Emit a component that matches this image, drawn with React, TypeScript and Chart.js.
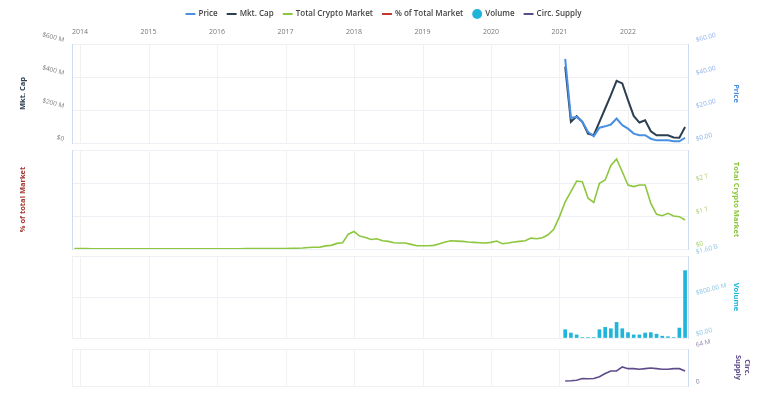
import React, { useEffect, useRef } from 'react';
import { Chart, registerables } from 'chart.js';

Chart.register(...registerables);

const FONT = "'Open Sans', 'Noto Sans', sans-serif";

// Total crypto market (billions USD), monthly
const marketMonths = [
  '2013-12',
  '2014-01', '2014-02', '2014-03', '2014-04', '2014-05', '2014-06', '2014-07', '2014-08', '2014-09', '2014-10', '2014-11', '2014-12',
  '2015-01', '2015-02', '2015-03', '2015-04', '2015-05', '2015-06', '2015-07', '2015-08', '2015-09', '2015-10', '2015-11', '2015-12',
  '2016-01', '2016-02', '2016-03', '2016-04', '2016-05', '2016-06', '2016-07', '2016-08', '2016-09', '2016-10', '2016-11', '2016-12',
  '2017-01', '2017-02', '2017-03', '2017-04', '2017-05', '2017-06', '2017-07', '2017-08', '2017-09', '2017-10', '2017-11', '2017-12',
  '2018-01', '2018-02', '2018-03', '2018-04', '2018-05', '2018-06', '2018-07', '2018-08', '2018-09', '2018-10', '2018-11', '2018-12',
  '2019-01', '2019-02', '2019-03', '2019-04', '2019-05', '2019-06', '2019-07', '2019-08', '2019-09', '2019-10', '2019-11', '2019-12',
  '2020-01', '2020-02', '2020-03', '2020-04', '2020-05', '2020-06', '2020-07', '2020-08', '2020-09', '2020-10', '2020-11', '2020-12',
  '2021-01', '2021-02', '2021-03', '2021-04', '2021-05', '2021-06', '2021-07', '2021-08', '2021-09', '2021-10', '2021-11', '2021-12',
  '2022-01', '2022-02', '2022-03', '2022-04', '2022-05', '2022-06', '2022-07', '2022-08', '2022-09', '2022-10', '2022-11',
];
const totalMarketB = [
  12,
  13, 11, 9, 7, 8, 9, 8, 7, 6, 5, 5, 4.5,
  4, 3.5, 4, 3.5, 3.5, 3.5, 4, 3.5, 3.5, 4, 5, 6,
  6.5, 7.5, 8.5, 8.5, 9, 12, 11, 10.5, 10.5, 11, 12, 14,
  17, 20, 25, 30, 45, 55, 55, 95, 110, 170, 190, 450,
  530, 390, 350, 290, 310, 250, 230, 190, 180, 180, 140, 100,
  100, 100, 110, 160, 210, 250, 240, 230, 210, 200, 190, 180,
  200, 240, 160, 180, 210, 230, 250, 330, 310, 340, 430, 600,
  980, 1430, 1740, 2060, 2040, 1540, 1410, 1990, 2090, 2530, 2730, 2340,
  1940, 1890, 1940, 1940, 1380, 1050, 1010, 1080, 1000, 980, 880,
];

// Coin series, monthly
const coinMonths = [
  '2021-02', '2021-03', '2021-04', '2021-05', '2021-06', '2021-07', '2021-08', '2021-09', '2021-10', '2021-11', '2021-12',
  '2022-01', '2022-02', '2022-03', '2022-04', '2022-05', '2022-06', '2022-07', '2022-08', '2022-09', '2022-10', '2022-11',
];
const priceUsd = [51, 15.2, 15.8, 12.8, 6.7, 4.1, 9.3, 10.1, 11.2, 14.8, 10.8, 8.7, 5.7, 4.7, 4.7, 2.6, 1.6, 1.6, 1.6, 1.0, 1.0, 3.2];
const mktCapM = [462, 128, 162, 128, 57, 47, 128, 209, 290, 377, 361, 260, 164, 124, 138, 71, 47, 47, 47, 34, 32, 97];
const volumeM = [162, 97, 60, 10, 10, 10, 162, 207, 181, 304, 181, 105, 60, 60, 97, 105, 75, 35, 25, 10, 194, 1315];
const circSupplyM = [8.6, 9, 10, 13, 12.6, 13, 16, 21.7, 26, 26, 33, 30, 30, 29, 30, 31, 30, 29, 29, 30, 30, 26];
const pctOfMarket: number[] = [];

const xMin = 2013.883;
const xMax = 2022.876;

const toX = (ym: string) => {
  const [y, m] = ym.split('-').map(Number);
  return y + (m - 1) / 12;
};

const HGRID = '#edf0f4';
const VGRID = '#f1f1f1';
const BORDER = '#cddcee';

const panelGridPlugin = {
  id: 'panelGrid',
  beforeDatasetsDraw(chart: any) {
    const { ctx, scales } = chart;
    const xs = scales.x;
    if (!xs) return;
    ctx.save();
    ctx.strokeStyle = VGRID;
    ctx.lineWidth = 1;
    ['yPrice', 'yTotal', 'yVol', 'ySupply'].forEach((id) => {
      const ys = scales[id];
      if (!ys) return;
      xs.ticks.forEach((t: any) => {
        const px = Math.round(xs.getPixelForValue(t.value)) + 0.5;
        ctx.beginPath();
        ctx.moveTo(px, ys.top);
        ctx.lineTo(px, ys.bottom);
        ctx.stroke();
      });
    });
    ctx.restore();
  },
};

const LEFT_W = 72;
const RIGHT_W = 80;
const TOP_H = 44;

function zeroPad(s: any) {
  s.paddingTop = 0;
  s.paddingBottom = 0;
  s.paddingLeft = 0;
  s.paddingRight = 0;
}

function yAxis(o: any) {
  const side = o.position;
  return {
    type: 'linear',
    position: side,
    stack: side === 'left' ? 'L' : 'R',
    stackWeight: o.stackWeight,
    weight: o.weight,
    display: o.display !== undefined ? o.display : true,
    min: o.min ?? 0,
    max: o.max ?? 1,
    afterFit: (s: any) => {
      s.width = side === 'left' ? LEFT_W : RIGHT_W;
      zeroPad(s);
    },
    grid: {
      display: !!o.grid,
      drawOnChartArea: !!o.grid,
      drawTicks: false,
      color: HGRID,
    },
    border: { display: o.border !== false, color: o.borderColor || BORDER },
    ticks: {
      display: !!o.fmt,
      autoSkip: false,
      stepSize: o.step,
      padding: 9,
      minRotation: side === 'left' ? -15 : 15,
      maxRotation: side === 'left' ? -15 : 15,
      color: o.tickColor || '#888',
      font: { size: 6.5, family: FONT },
      callback: (v: any) => (o.fmt ? [o.fmt(v), ''] : ''),
    },
    title: o.title
      ? {
          display: true,
          text: o.title,
          color: o.titleColor,
          font: { size: 7.5, weight: 'bold', family: FONT },
          padding: { top: o.titlePad ?? 18, bottom: 0 },
        }
      : { display: false },
  };
}

export default function App() {
  const ref = useRef<HTMLCanvasElement | null>(null);

  useEffect(() => {
    if (!ref.current) return;
    Chart.defaults.font.family = FONT;
    const coinXY = (arr: number[]) => coinMonths.map((m, i) => ({ x: toX(m), y: arr[i] }));

    const chart = new Chart(ref.current, {
      type: 'line',
      data: {
        datasets: [
          {
            type: 'line', label: 'Price', data: coinXY(priceUsd), xAxisID: 'x', yAxisID: 'yPrice',
            borderColor: '#4a90e2', backgroundColor: '#4a90e2', borderWidth: 2, pointRadius: 0, tension: 0,
          },
          {
            type: 'line', label: 'Mkt. Cap', data: coinXY(mktCapM), xAxisID: 'x', yAxisID: 'yMkt',
            borderColor: '#2c3e50', backgroundColor: '#2c3e50', borderWidth: 2, pointRadius: 0, tension: 0,
          },
          {
            type: 'line', label: 'Total Crypto Market',
            data: marketMonths.map((m, i) => ({ x: toX(m), y: totalMarketB[i] })),
            xAxisID: 'x', yAxisID: 'yTotal',
            borderColor: '#8dc63f', backgroundColor: '#8dc63f', borderWidth: 1.6, pointRadius: 0, tension: 0,
          },
          {
            type: 'line', label: '% of Total Market',
            data: pctOfMarket.map((v, i) => ({ x: toX(marketMonths[i]), y: v })),
            xAxisID: 'x', yAxisID: 'yPct',
            borderColor: '#c0392b', backgroundColor: '#c0392b', borderWidth: 2, pointRadius: 0,
          },
          {
            type: 'bar', label: 'Volume', data: coinXY(volumeM), xAxisID: 'x', yAxisID: 'yVol',
            backgroundColor: '#1fb5d9', borderColor: '#1fb5d9', borderWidth: 0, barThickness: 3,
          },
          {
            type: 'line', label: 'Circ. Supply', data: coinXY(circSupplyM), xAxisID: 'x', yAxisID: 'ySupply',
            borderColor: '#5e4b8b', backgroundColor: '#5e4b8b', borderWidth: 1.6, pointRadius: 0, tension: 0,
          },
        ] as any,
      },
      options: {
        animation: false,
        responsive: false,
        maintainAspectRatio: false,
        layout: { padding: { top: 0, left: 0, right: 0, bottom: 9 } },
        plugins: {
          tooltip: { enabled: false },
          legend: {
            position: 'top',
            labels: {
              usePointStyle: true,
              boxHeight: 7,
              boxWidth: 8,
              padding: 10,
              color: '#444',
              font: { size: 8, weight: '600', family: FONT },
              generateLabels: (c: any) => {
                const items = Chart.defaults.plugins.legend.labels.generateLabels(c);
                return items.map((it: any) => {
                  const isBar = it.text === 'Volume';
                  return {
                    ...it,
                    pointStyle: isBar ? 'circle' : 'line',
                    lineWidth: isBar ? 0 : 2,
                    fillStyle: it.strokeStyle || it.fillStyle,
                  };
                });
              },
            },
          },
        },
        scales: {
          x: {
            type: 'linear',
            position: 'top',
            offset: false,
            min: xMin,
            max: xMax,
            grid: { display: false, drawTicks: false, offset: false },
            border: { display: false },
            afterFit: (s: any) => {
              const lh = s.chart.legend ? s.chart.legend.height : 0;
              s.height = TOP_H - lh;
              zeroPad(s);
            },
            ticks: {
              stepSize: 1,
              includeBounds: false,
              autoSkip: false,
              maxRotation: 0,
              padding: 8,
              color: '#777',
              font: { size: 7, family: FONT },
              callback: (v: any) => String(v),
            },
          },
          // left stack (higher weight = higher placement)
          yMkt: yAxis({
            position: 'left', stackWeight: 99, weight: 7, min: 0, max: 600, step: 200,
            fmt: (v: number) => (v === 0 ? '$0' : `$${v} M`), tickColor: '#7a7a7a',
            title: 'Mkt. Cap', titleColor: '#2c3e50', titlePad: 18,
          }),
          yGapL1: yAxis({ position: 'left', stackWeight: 7, weight: 6, display: false }),
          yPct: yAxis({
            position: 'left', stackWeight: 99, weight: 5, min: 0, max: 1,
            title: '% of total Market', titleColor: '#a33a32', titlePad: 18,
          }),
          yGapL2: yAxis({ position: 'left', stackWeight: 7, weight: 4, display: false }),
          yL3: yAxis({ position: 'left', stackWeight: 82, weight: 3, borderColor: '#eef0f3' }),
          yGapL3: yAxis({ position: 'left', stackWeight: 11, weight: 2, display: false }),
          yL4: yAxis({ position: 'left', stackWeight: 37, weight: 1, borderColor: '#eef0f3' }),
          // right stack (lower weight = higher placement)
          yPrice: yAxis({
            position: 'right', stackWeight: 99, weight: 1, min: 0, max: 60, step: 20, grid: true,
            fmt: (v: number) => `$${v.toFixed(2)}`, tickColor: '#8fb3ea',
            title: 'Price', titleColor: '#4a90e2', titlePad: 27,
          }),
          yGapR1: yAxis({ position: 'right', stackWeight: 7, weight: 2, display: false }),
          yTotal: yAxis({
            position: 'right', stackWeight: 99, weight: 3, min: 0, max: 3000, step: 1000, grid: true,
            fmt: (v: number) => (v === 0 ? '$0' : v >= 3000 ? '' : `$${v / 1000} T`), tickColor: '#a9cf6e',
            title: 'Total Crypto Market', titleColor: '#8dc63f', titlePad: 27,
          }),
          yGapR2: yAxis({ position: 'right', stackWeight: 7, weight: 4, display: false }),
          yVol: yAxis({
            position: 'right', stackWeight: 82, weight: 5, min: 0, max: 1600, step: 800, grid: true,
            fmt: (v: number) => (v === 0 ? '$0.00' : v >= 1000 ? `$${(v / 1000).toFixed(2)} B` : `$${v.toFixed(2)} M`),
            tickColor: '#8cc6e2',
            title: 'Volume', titleColor: '#1fb5d9', titlePad: 27,
          }),
          yGapR3: yAxis({ position: 'right', stackWeight: 11, weight: 6, display: false }),
          ySupply: yAxis({
            position: 'right', stackWeight: 37, weight: 7, min: 0, max: 64, step: 64, grid: true,
            fmt: (v: number) => (v === 0 ? '0' : `${v} M`), tickColor: '#8a82a6',
            title: ['Circ.', 'Supply'], titleColor: '#5e4b8b', titlePad: 16,
          }),
        } as any,
      },
      plugins: [panelGridPlugin],
    });
    return () => chart.destroy();
  }, []);

  return (
    <div style={{ position: 'absolute', left: 0, top: 0, width: 768, height: 395 }}>
      <canvas ref={ref} width={768} height={395} style={{ display: 'block' }} />
    </div>
  );
}
